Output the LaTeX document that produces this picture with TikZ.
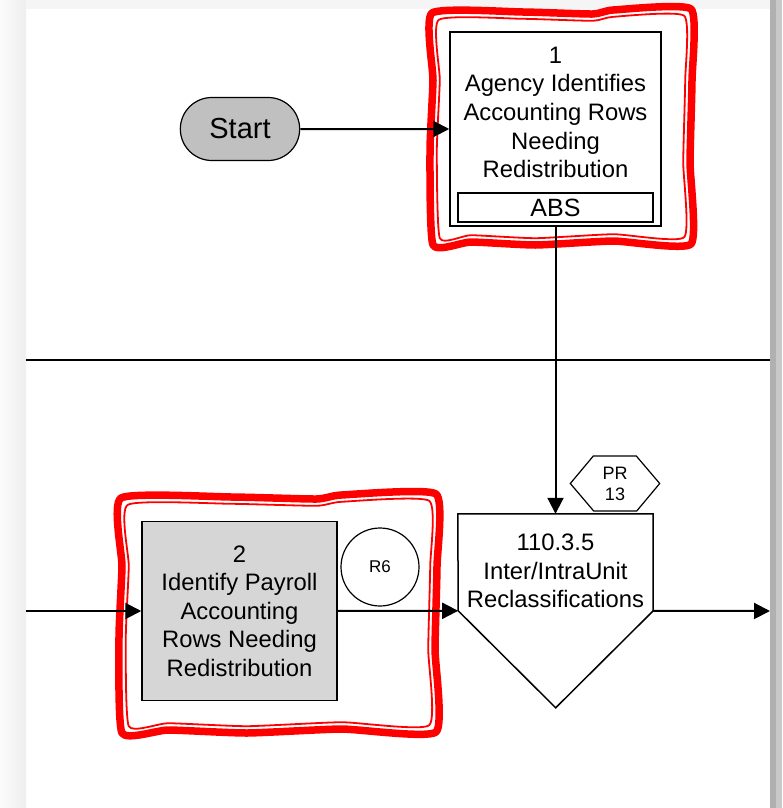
\documentclass[tikz,border=0pt]{standalone}
\usepackage{fontspec}
\setmainfont{Liberation Sans}
\usepackage{tikz}
\usetikzlibrary{arrows.meta, shapes.misc}

\definecolor{startgray}{HTML}{C0C0C0}
\definecolor{stepgray}{HTML}{D6D6D6}
\definecolor{markred}{HTML}{FF0000}

\newcommand{\boxfont}{\fontsize{23.8}{28.6}\selectfont}

% hand drawn double frame: thick outer line, thin inner line
\newcommand{\redmark}[4]{%
  \pgfmathsetmacro{\mw}{#3-#1}\pgfmathsetmacro{\mh}{#4-#2}%
  \foreach \ins/\lw in {0/7.5, 6.8/1.8}{%
    \draw[markred, line width=\lw, line join=round]
      plot[smooth cycle, tension=0.3] coordinates {
        ({#1+\ins}, {#2+\ins+3}) ({#1+0.35*\mw}, {#2+\ins+2})
        ({#1+0.62*\mw}, {#2+\ins+4}) ({#1+0.7*\mw}, {#2+\ins})
        ({#3-\ins}, {#2+\ins-1}) ({#3-\ins+1}, {#2+0.3*\mh})
        ({#3-\ins-1}, {#2+0.65*\mh}) ({#3-\ins}, {#4-\ins})
        ({#1+0.7*\mw}, {#4-\ins-3}) ({#1+0.4*\mw}, {#4-\ins+1})
        ({#1+0.15*\mw}, {#4-\ins-2}) ({#1+\ins+1}, {#4-\ins+1})
        ({#1+\ins-2}, {#2+0.6*\mh}) ({#1+\ins+1}, {#2+0.3*\mh})
      };
  }%
}

\begin{document}
\begin{tikzpicture}[x=1pt, y=-1pt,
    flow/.style={line width=2, -{Triangle[length=16pt, width=16pt]}},
    proc/.style={draw, line width=1.5, align=center, font=\boxfont},
    txt/.style={align=center, font=\boxfont, inner sep=0pt}]
  \useasboundingbox (0,0) rectangle (782,808);

  % page and window edges
  \fill[white] (0,0) rectangle (782,808);
  \shade[left color=gray!3, right color=gray!13] (0,0) rectangle (26,808);
  \fill[gray!8] (26,0) rectangle (770,9);
  \fill[gray!62] (770,0) rectangle (776,808);
  \fill[gray!42] (776,0) rectangle (782,808);

  % highlighted steps
  \redmark{432}{10}{691}{244}
  \redmark{121}{495}{436}{732}

  % lane divider
  \draw[line width=1.5] (26,360) -- (770,360);

  \node[draw, rounded rectangle, fill=startgray, line width=1.2,
        minimum width=126, minimum height=63,
        font=\fontsize{29}{34}\selectfont] (start) at (240,129) {Start};

  \node[proc, fill=white, minimum width=211, minimum height=194] (agency) at (555.5,129) {};
  \node[txt] (agencytxt) at (555.5,112.5)
    {1\\Agency Identifies\\Accounting Rows\\Needing\\Redistribution};
  \node[draw, line width=1.5, minimum width=195, minimum height=29, inner sep=0pt,
        font=\fontsize{25}{28}\selectfont] (abs) at (555.5,207.5) {ABS};

  \node[proc, fill=stepgray, minimum width=195, minimum height=179] (payroll) at (239.5,611)
    {2\\Identify Payroll\\Accounting\\Rows Needing\\Redistribution};
  \node[draw, circle, line width=1.2, minimum size=78, inner sep=0pt,
        font=\fontsize{17}{20}\selectfont] (rsix) at (380,567) {R6};

  \node[txt, minimum width=195, minimum height=114] (reclass) at (555.5,571)
    {110.3.5\\Inter/IntraUnit\\Reclassifications};
  \draw[line width=1.5] (reclass.north west) -- (reclass.north east)
    -- ++(0,97) coordinate (reclassR) -- ++(-97.5,97)
    -- ++(-97.5,-97) coordinate (reclassL) -- cycle;

  \node[inner sep=0pt, minimum width=89, minimum height=55, align=center,
        font=\fontsize{18}{21}\selectfont] (pr) at (615,483.5) {PR\\13};
  \draw[line width=1.2] (pr.west) -- ++(23,-27.5) -- ++(43,0) -- (pr.east)
    -- ++(-23,27.5) -- ++(-43,0) -- cycle;

  \coordinate (inL) at (26,611);
  \coordinate (outR) at (770,611);

  \draw[flow] (start) -- (agency);
  \draw[flow] (agency) -- (reclass);
  \draw[flow] (inL) -- (payroll);
  \draw[flow] (payroll) -- (reclassL);
  \draw[flow] (reclassR) -- (outR);
\end{tikzpicture}
\end{document}
